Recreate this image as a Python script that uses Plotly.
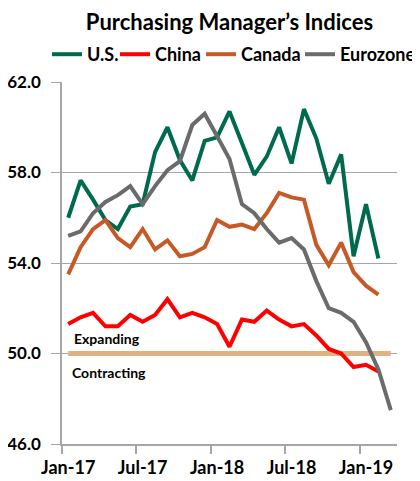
import plotly.graph_objects as go

months = ["Jan-17", "Feb-17", "Mar-17", "Apr-17", "May-17", "Jun-17", "Jul-17", "Aug-17", "Sep-17",
          "Oct-17", "Nov-17", "Dec-17", "Jan-18", "Feb-18", "Mar-18", "Apr-18", "May-18", "Jun-18",
          "Jul-18", "Aug-18", "Sep-18", "Oct-18", "Nov-18", "Dec-18", "Jan-19", "Feb-19", "Mar-19"]

us = [56.0, 57.65, 56.8, 55.9, 55.5, 56.5, 56.6, 58.9, 60.0, 58.55, 57.65, 59.4, 59.55, 60.7,
      59.3, 57.9, 58.7, 60.0, 58.4, 60.8, 59.5, 57.5, 58.8, 54.3, 56.6, 54.2]
china = [51.3, 51.6, 51.8, 51.2, 51.2, 51.7, 51.4, 51.7, 52.4, 51.6, 51.8, 51.6, 51.3, 50.3,
         51.5, 51.4, 51.9, 51.5, 51.2, 51.3, 50.8, 50.2, 50.0, 49.4, 49.5, 49.2]
canada = [53.5, 54.7, 55.5, 55.9, 55.1, 54.7, 55.5, 54.6, 55.0, 54.3, 54.4, 54.7, 55.9, 55.6,
          55.7, 55.5, 56.2, 57.1, 56.9, 56.8, 54.8, 53.9, 54.9, 53.6, 53.0, 52.6]
eurozone = [55.2, 55.4, 56.2, 56.7, 57.0, 57.4, 56.6, 57.4, 58.1, 58.5, 60.1, 60.6, 59.6, 58.6,
            56.6, 56.2, 55.5, 54.9, 55.1, 54.6, 53.2, 52.0, 51.8, 51.4, 50.5, 49.3, 47.5]
threshold = 50.0

y_ticks = [46.0, 50.0, 54.0, 58.0, 62.0]
x_label_months = ["Jan-17", "Jul-17", "Jan-18", "Jul-18", "Jan-19"]

FONT = "Lato"
W, H = 412, 473  # page body has an 8px margin in the browser
idx = list(range(len(months)))

fig = go.Figure()
fig.add_trace(go.Scatter(x=idx, y=[threshold] * len(months), mode="lines",
                         line=dict(color="#DDB386", width=5), showlegend=False,
                         hoverinfo="skip"))

series = [("U.S.", us, "#006A4E", "legend", 39),
          ("China", china, "#FF0000", "legend2", 107),
          ("Canada", canada, "#C55A27", "legend3", 193),
          ("Eurozone", eurozone, "#6B6B6B", "legend4", 292)]
legend_defs = {}
for name, vals, col, lg, lx in series:
    fig.add_trace(go.Scatter(x=idx[:len(vals)], y=vals, mode="lines", name=name,
                             legend=lg, line=dict(color=col, width=4)))
    legend_defs[lg] = dict(orientation="h", x=lx / W, xanchor="left", xref="container",
                           yref="container", y=1 - 28 / H, yanchor="top",
                           font=dict(size=18, family=FONT, color="black", weight="bold"),
                           itemwidth=30, bgcolor="rgba(0,0,0,0)")

tickvals_x = [months.index(m) for m in x_label_months]

fig.update_layout(
    width=W, height=H,
    margin=dict(l=54, r=23, t=74, b=37, autoexpand=False),
    paper_bgcolor="white", plot_bgcolor="white",
    font=dict(family=FONT, color="black"),
    title=dict(text="<b>Purchasing Manager’s Indices</b>", x=0.5, xref="paper",
               xanchor="center", y=1 - 14.5 / H, yanchor="middle",
               font=dict(size=22, family=FONT, color="black")),
    showlegend=True,
    **legend_defs,
)

fig.update_xaxes(
    range=[-0.5, len(months) - 0.5], tickmode="array", tickvals=tickvals_x,
    ticktext=x_label_months, ticks="", showgrid=False, zeroline=False,
    showline=True, linecolor="#A6A6A6", linewidth=1.5,
    tickfont=dict(size=18, family=FONT, color="black", weight="bold"),
    minor=dict(ticks="outside", tick0=-0.5, dtick=6, ticklen=8, tickcolor="#A6A6A6",
               tickwidth=1.5, showgrid=False),
    ticklabelstandoff=7,
)
fig.update_yaxes(
    range=[46, 62], tickmode="array", tickvals=y_ticks,
    ticktext=[f"{v:.1f}" for v in y_ticks], ticks="outside", ticklen=9,
    tickcolor="#A6A6A6", tickwidth=1.2, showgrid=True, gridcolor="#A6A6A6",
    gridwidth=1.2, zeroline=False, showline=True, linecolor="#A6A6A6", linewidth=1.5,
    tickfont=dict(size=17, family=FONT, color="black", weight="bold"),
    ticklabelstandoff=7,
)

fig.add_annotation(text="<b>Expanding</b>", xref="paper", x=10 / 335, xanchor="left",
                   yref="y", y=50.67, yanchor="middle", showarrow=False,
                   font=dict(size=14, family=FONT, color="black"))
fig.add_annotation(text="<b>Contracting</b>", xref="paper", x=7.5 / 335, xanchor="left",
                   yref="y", y=49.17, yanchor="middle", showarrow=False,
                   font=dict(size=14, family=FONT, color="black"))

fig.write_html("out.html")
